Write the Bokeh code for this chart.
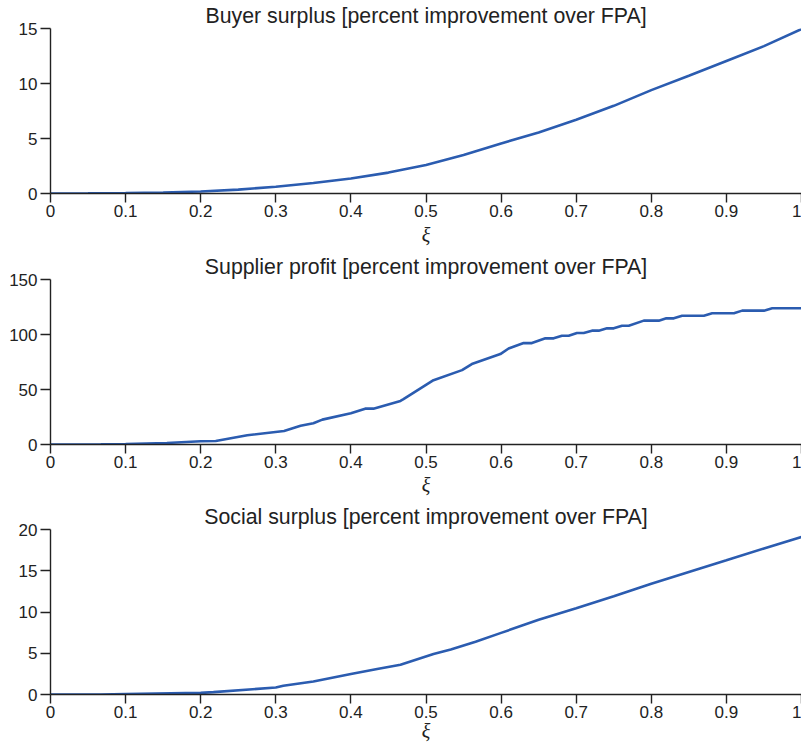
from bokeh.plotting import figure
from bokeh.layouts import column
from bokeh.models import FixedTicker, NumeralTickFormatter, Range1d, Title
from bokeh.embed import file_html
from bokeh.resources import INLINE

# Buyer surplus, percent improvement over FPA
buyer_xi = [0.0, 0.05, 0.1, 0.15, 0.2, 0.25, 0.3, 0.35, 0.4, 0.45, 0.5,
            0.55, 0.6, 0.65, 0.7, 0.75, 0.8, 0.85, 0.9, 0.95, 1.0]
buyer_val = [0.0, 0.01, 0.04, 0.09, 0.18, 0.35, 0.62, 0.95, 1.36, 1.9, 2.6,
             3.5, 4.55, 5.55, 6.7, 7.97, 9.4, 10.7, 12.05, 13.4, 14.95]

# Supplier profit, percent improvement over FPA
supplier_xi = [0.0, 0.067, 0.1, 0.155, 0.2, 0.22, 0.262, 0.311, 0.333, 0.35,
               0.362, 0.4, 0.419, 0.43, 0.466, 0.47, 0.51, 0.548, 0.561, 0.599,
               0.61, 0.63, 0.641, 0.659, 0.67, 0.681, 0.69, 0.701, 0.71, 0.721,
               0.73, 0.741, 0.75, 0.761, 0.77, 0.79, 0.81, 0.82, 0.83, 0.841,
               0.87, 0.881, 0.91, 0.921, 0.95, 0.961, 1.0]
supplier_val = [0.0, 0.1, 0.5, 1.4, 2.9, 3.2, 8.4, 12.3, 17.0, 19.3,
                22.6, 28.4, 32.6, 32.6, 39.6, 41.2, 58.5, 67.6, 73.1, 82.2,
                87.3, 92.2, 92.2, 96.5, 96.5, 98.9, 98.9, 101.4, 101.4, 103.5,
                103.5, 105.6, 105.6, 108.0, 108.0, 112.6, 112.6, 114.7, 114.7, 117.1,
                117.1, 119.3, 119.3, 121.7, 121.7, 123.8, 123.8]

# Social surplus, percent improvement over FPA
social_xi = [0.0, 0.067, 0.1, 0.2, 0.217, 0.3, 0.31, 0.35, 0.4, 0.435, 0.466,
             0.51, 0.533, 0.566, 0.6, 0.65, 0.7, 0.75, 0.8, 0.85, 0.9,
             0.95, 1.0]
social_val = [0.0, 0.0, 0.05, 0.2, 0.29, 0.85, 1.06, 1.58, 2.48, 3.09, 3.6,
              4.9, 5.45, 6.4, 7.47, 9.05, 10.46, 11.9, 13.43, 14.85, 16.27,
              17.7, 19.1]

panel_titles = ["Buyer surplus [percent improvement over FPA]",
                "Supplier profit [percent improvement over FPA]",
                "Social surplus [percent improvement over FPA]"]
x_axis_label = "ξ"
x_ticks = [0.0, 0.1, 0.2, 0.3, 0.4, 0.5, 0.6, 0.7, 0.8, 0.9, 1.0]
y_ticks = [[0, 5, 10, 15], [0, 50, 100, 150], [0, 5, 10, 15, 20]]
y_tops = [15, 150, 20]

LINE = "#2b5cb0"
INK = "#222222"
FONT = "Liberation Sans"
FRAME_H = 165


def panel(title, xs, ys, yticks, ytop, top_border, total_h, label_gap):
    p = figure(width=801, height=total_h, output_backend="svg",
               toolbar_location=None, x_range=Range1d(0, 1),
               y_range=Range1d(0, ytop),
               min_border_left=50, min_border_right=0,
               min_border_top=top_border,
               min_border_bottom=total_h - top_border - FRAME_H)
    p.title = Title(text=title, align="center", vertical_align="middle",
                    text_font=FONT, text_font_size="21.3px",
                    text_font_style="normal", text_color=INK,
                    offset=0, standoff=0)
    p.outline_line_color = None
    p.grid.visible = False
    p.background_fill_color = "white"
    p.border_fill_color = "white"

    p.line(xs, ys, line_color=LINE, line_width=2.6)

    for ax in (p.xaxis[0], p.yaxis[0]):
        ax.axis_line_color = INK
        ax.axis_line_width = 1.4
        ax.major_tick_line_color = INK
        ax.major_tick_line_width = 1.4
        ax.major_tick_in = 0
        ax.minor_tick_line_color = None
        ax.major_label_text_font = FONT
        ax.major_label_text_font_size = "17px"
        ax.major_label_text_color = INK

    xa = p.xaxis[0]
    xa.ticker = FixedTicker(ticks=x_ticks)
    xa.formatter = NumeralTickFormatter(format="0.[0]")
    xa.major_tick_out = 9
    xa.major_label_standoff = 2
    xa.axis_label = x_axis_label
    xa.axis_label_text_font = "Liberation Serif"
    xa.axis_label_text_font_style = "italic"
    xa.axis_label_text_font_size = "20px"
    xa.axis_label_text_color = INK
    xa.axis_label_standoff = label_gap

    ya = p.yaxis[0]
    ya.ticker = FixedTicker(ticks=yticks)
    ya.major_tick_out = 10
    ya.major_label_standoff = 3
    return p


figs = [
    panel(panel_titles[0], buyer_xi, buyer_val, y_ticks[0], y_tops[0], 28, 250, 4),
    panel(panel_titles[1], supplier_xi, supplier_val, y_ticks[1], y_tops[1], 29, 250, 3),
    panel(panel_titles[2], social_xi, social_val, y_ticks[2], y_tops[2], 29, 246, -1),
]

layout = column(*figs, spacing=0)
open("out.html", "w").write(file_html(layout, INLINE))
